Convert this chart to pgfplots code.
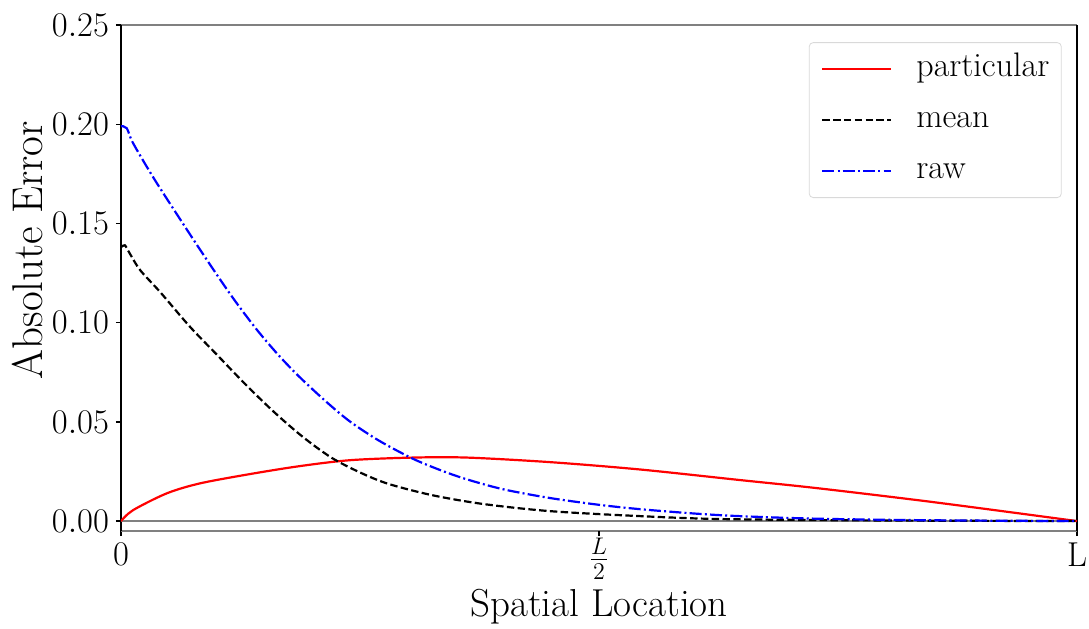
\documentclass[border=0pt]{standalone}
\usepackage{pgfplots}
\pgfplotsset{compat=1.18}
\begin{document}
\begin{tikzpicture}
\begin{axis}[
  name=ax,
  scale only axis, width=478pt, height=253pt,
  xmin=0, xmax=1, ymin=-0.005, ymax=0.25,
  separate axis lines,
  x axis line style={gray, line width=0.7pt},
  y axis line style={black, line width=0.7pt},
  xtick={0,1},
  xticklabels={$0$, $\mathrm{L}$},
  extra x ticks={0.5},
  extra x tick labels={$\frac{L}{2}$},
  extra x tick style={ticklabel style={font=\fontsize{18.5}{22}\selectfont, yshift=2.5pt}},
  ytick={0,0.05,0.1,0.15,0.2,0.25},
  scaled y ticks=false,
  yticklabel style={/pgf/number format/.cd, fixed, fixed zerofill, precision=2},
  tick style={black, line width=0.7pt},
  major tick length=2.5pt,
  tick align=outside,
  xtick pos=bottom, ytick pos=left,
  ticklabel style={font=\fontsize{17}{20}\selectfont},
  xlabel={Spatial Location},
  ylabel={Absolute Error},
  xlabel style={font=\fontsize{19.5}{23}\selectfont, at={(axis description cs:0.5,-0.150)}, anchor=center},
  ylabel style={font=\fontsize{21.5}{25}\selectfont, at={(axis description cs:-0.0978,0.555)}, anchor=center},
  legend cell align=left,
  legend image code/.code={\draw[#1] (0pt,0pt) -- (34.5pt,0pt);},
  legend style={at={(axis description cs:0.984,0.966)}, anchor=north east,
    draw=gray!30, rounded corners=2pt, fill=white,
    font=\fontsize{17}{20}\selectfont,
    inner xsep=6pt, inner ysep=6pt,
    column sep=12pt, row sep=11pt,
    nodes={inner sep=0pt, text height=11pt, text depth=3.5pt}},
]
\addplot[gray, line width=0.6pt, forget plot] coordinates {(0,0) (1,0)};
\addplot[red, line width=1.1pt, smooth, tension=0.5] coordinates {
(0,0) (0.0126,0.0055) (0.048,0.014) (0.0826,0.019) (0.135,0.0237) (0.187,0.0277)
(0.240,0.0307) (0.305,0.032) (0.362,0.032) (0.449,0.0297) (0.543,0.026)
(0.647,0.0207) (0.728,0.0166) (0.849,0.0096) (1,0)};
\addlegendentry{particular}
\addplot[black, line width=1.1pt, smooth, tension=0.5, dash pattern=on 3.7pt off 1.7pt] coordinates {
(0,0.138) (0.004,0.139) (0.009,0.135) (0.020,0.1265) (0.041,0.1154) (0.072,0.098)
(0.1,0.084) (0.13,0.069) (0.16,0.055) (0.19,0.0425) (0.22,0.032) (0.25,0.0245)
(0.28,0.0187) (0.326,0.013) (0.379,0.0086) (0.449,0.005) (0.543,0.0025)
(0.630,0.001) (0.8,0.0003) (1,0)};
\addlegendentry{mean}
\addplot[blue, line width=1.1pt, smooth, tension=0.5, dash pattern=on 6pt off 1.6pt on 1pt off 1.6pt] coordinates {
(0,0.199) (0.006,0.198) (0.0126,0.1905) (0.034,0.173) (0.062,0.152) (0.090,0.1315)
(0.117,0.1125) (0.142,0.0965) (0.165,0.0835) (0.187,0.0725) (0.215,0.06) (0.24,0.050)
(0.27,0.0405) (0.305,0.0315) (0.335,0.0255) (0.362,0.021) (0.40,0.016) (0.449,0.0116)
(0.5,0.0082) (0.543,0.006) (0.6,0.0038) (0.647,0.0025) (0.728,0.0012) (0.85,0.0004) (1,0)};
\addlegendentry{raw}
\end{axis}
\pgfresetboundingbox
\path[use as bounding box] (-60.5pt,-48.5pt) rectangle (484pt,265.5pt);
\end{tikzpicture}
\end{document}
